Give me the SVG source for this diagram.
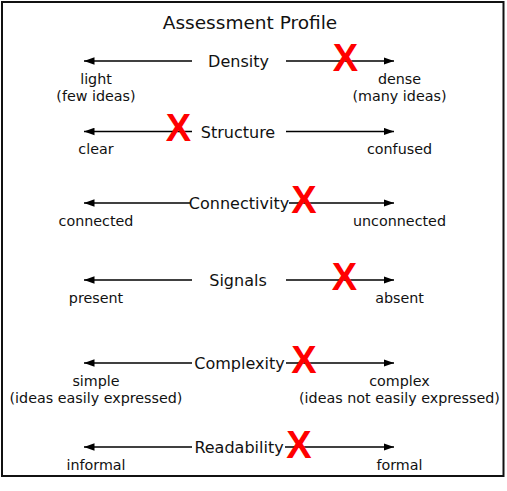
<svg xmlns="http://www.w3.org/2000/svg" width="507" height="491" viewBox="0 0 507 491">
<style>
text{font-family:"DejaVu Sans",Verdana,sans-serif;fill:#111;text-anchor:middle}
.t{font-size:18.5px}
.m{font-size:16px}
.l{font-size:14.3px}
.x{font-family:"Liberation Sans",Arial,sans-serif;font-weight:bold;font-size:38px;fill:#f00}
.a{stroke:#000;stroke-width:1.5;fill:none;marker-end:url(#ah)}
</style>
<defs>
<marker id="ah" markerUnits="userSpaceOnUse" markerWidth="11" markerHeight="8" refX="10.5" refY="4" orient="auto">
<path d="M0,0.2 L10.5,4 L0,7.8 z" fill="#000"/>
</marker>
</defs>
<rect x="2" y="2" width="501.5" height="474" fill="#fff" stroke="#111" stroke-width="2"/>
<text class="t" x="250" y="29">Assessment Profile</text>
<g id="connectors">
<line class="a" x1="192" y1="61" x2="84" y2="61"/><line class="a" x1="286" y1="61" x2="394" y2="61"/>
<line class="a" x1="192" y1="131.5" x2="84" y2="131.5"/><line class="a" x1="286" y1="131.5" x2="394" y2="131.5"/>
<line class="a" x1="190" y1="203" x2="84" y2="203"/><line class="a" x1="289" y1="203" x2="394" y2="203"/>
<line class="a" x1="192" y1="280" x2="84" y2="280"/><line class="a" x1="286" y1="280" x2="394" y2="280"/>
<line class="a" x1="192" y1="363" x2="84" y2="363"/><line class="a" x1="286" y1="363" x2="394" y2="363"/>
<line class="a" x1="192" y1="447" x2="84" y2="447"/><line class="a" x1="285" y1="447" x2="394" y2="447"/>
</g>
<g id="density">
<text class="m" x="238.5" y="67">Density</text>
<text class="l" x="96" y="83.5">light</text><text class="l" x="96" y="100.5">(few ideas)</text>
<text class="l" x="399.5" y="83.5">dense</text><text class="l" x="399.5" y="100.5">(many ideas)</text>
<text class="x" x="345.5" y="71">X</text>
</g>
<g id="structure">
<text class="m" x="238" y="137.5">Structure</text>
<text class="l" x="96" y="154">clear</text>
<text class="l" x="399.5" y="154">confused</text>
<text class="x" x="178.5" y="141">X</text>
</g>
<g id="connectivity">
<text class="m" x="239" y="209">Connectivity</text>
<text class="l" x="96" y="225.5">connected</text>
<text class="l" x="399.5" y="225.5">unconnected</text>
<text class="x" x="304" y="213">X</text>
</g>
<g id="signals">
<text class="m" x="238" y="286">Signals</text>
<text class="l" x="96" y="302.5">present</text>
<text class="l" x="399.5" y="302.5">absent</text>
<text class="x" x="344.5" y="290">X</text>
</g>
<g id="complexity">
<text class="m" x="239.5" y="369">Complexity</text>
<text class="l" x="96" y="385.5">simple</text><text class="l" x="96" y="402.5">(ideas easily expressed)</text>
<text class="l" x="399.5" y="385.5">complex</text><text class="l" x="399.5" y="402.5">(ideas not easily expressed)</text>
<text class="x" x="304" y="373">X</text>
</g>
<g id="readability">
<text class="m" x="239" y="453">Readability</text>
<text class="l" x="96" y="469.5">informal</text>
<text class="l" x="399.5" y="469.5">formal</text>
<text class="x" x="299" y="458">X</text>
</g>
</svg>
